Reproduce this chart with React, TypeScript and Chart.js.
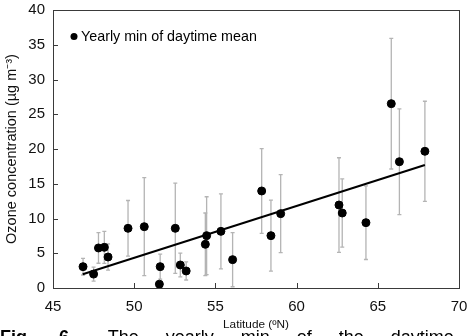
import React, { useEffect, useRef } from "react";
import { Chart, registerables } from "chart.js";

Chart.register(...registerables);

// Station latitude (ºN), yearly minimum of daytime-mean ozone (µg m-3) and its ± spread
const latitude = [46.85, 47.5, 47.8, 48.16, 48.39, 49.62, 50.62, 51.6, 51.55, 52.53, 52.84, 53.2, 54.38, 54.46, 55.34, 56.06, 57.85, 58.42, 59.02, 62.61, 62.81, 64.27, 65.83, 66.33, 67.9];
const ozoneMin = [3.07, 2.0, 5.76, 5.85, 4.46, 8.59, 8.82, 3.07, 0.55, 8.59, 3.31, 2.45, 6.29, 7.53, 8.15, 4.08, 13.96, 7.53, 10.7, 11.94, 10.79, 9.4, 26.52, 18.17, 19.67];
const ozoneErr = [1.2, 1.0, 2.2, 2.3, 1.9, 4.0, 7.05, 1.8, 0, 6.5, 1.7, 1.3, 4.5, 5.6, 5.4, 3.9, 6.1, 5.1, 5.6, 6.8, 4.9, 5.3, 9.4, 7.6, 7.2];

// Linear trend end points
const trendLat = [46.83, 67.9];
const trendOzone = [1.97, 17.7];

const xTicks = [45, 50, 55, 60, 65, 70];
const yTicks = [0, 5, 10, 15, 20, 25, 30, 35, 40];

const legendLabel = "Yearly min of daytime mean";
const FONT = "'Liberation Sans', Arial, sans-serif";

const errorBars = {
  id: "errorBars",
  beforeDatasetsDraw(chart: any) {
    const { ctx, scales } = chart;
    const x = scales.x;
    const y = scales.y;
    ctx.save();
    ctx.strokeStyle = "#b4b4b4";
    ctx.lineWidth = 1.3;
    latitude.forEach((lat, i) => {
      const e = ozoneErr[i];
      if (!e) return;
      const px = x.getPixelForValue(lat);
      const top = y.getPixelForValue(ozoneMin[i] + e);
      const bot = y.getPixelForValue(Math.max(0, ozoneMin[i] - e));
      ctx.beginPath();
      ctx.moveTo(px, top);
      ctx.lineTo(px, bot);
      ctx.moveTo(px - 2, top);
      ctx.lineTo(px + 2, top);
      ctx.moveTo(px - 2, bot);
      ctx.lineTo(px + 2, bot);
      ctx.stroke();
    });
    ctx.restore();
  },
};

const frameAndLegend = {
  id: "frameAndLegend",
  afterDraw(chart: any) {
    const { ctx, chartArea, scales } = chart;
    const { left, right, top, bottom } = chartArea;
    ctx.save();
    ctx.strokeStyle = "#3a3a3a";
    ctx.lineWidth = 1;
    ctx.strokeRect(left + 0.5, top + 0.5, right - left, bottom - top);
    ctx.beginPath();
    yTicks.forEach((v) => {
      const py = Math.round(scales.y.getPixelForValue(v)) + 0.5;
      ctx.moveTo(left, py);
      ctx.lineTo(left + 5, py);
    });
    xTicks.forEach((v) => {
      const px = Math.round(scales.x.getPixelForValue(v)) + 0.5;
      ctx.moveTo(px, bottom);
      ctx.lineTo(px, bottom - 5);
    });
    ctx.stroke();

    // legend inside the plot
    ctx.fillStyle = "#000";
    ctx.beginPath();
    ctx.arc(74, 36.5, 3.5, 0, Math.PI * 2);
    ctx.fill();
    ctx.font = `14.3px ${FONT}`;
    ctx.textBaseline = "middle";
    ctx.fillText(legendLabel, 81, 37);
    ctx.restore();
  },
};

export default function App() {
  const ref = useRef<HTMLCanvasElement>(null);

  useEffect(() => {
    if (!ref.current) return;
    const chart = new Chart(ref.current, {
      type: "scatter",
      data: {
        datasets: [
          {
            label: legendLabel,
            data: latitude.map((v, i) => ({ x: v, y: ozoneMin[i] })),
            backgroundColor: "#000",
            borderColor: "#000",
            pointRadius: 4,
            pointHoverRadius: 4,
          },
          {
            label: "trend",
            type: "line",
            data: trendLat.map((v, i) => ({ x: v, y: trendOzone[i] })),
            borderColor: "#000",
            borderWidth: 2,
            pointRadius: 0,
            fill: false,
          },
        ],
      },
      options: {
        responsive: false,
        animation: false,
        layout: { padding: { left: 0, top: 10, right: 8, bottom: 0 } },
        plugins: { legend: { display: false }, tooltip: { enabled: false } },
        scales: {
          x: {
            type: "linear",
            min: 45,
            max: 70,
            afterBuildTicks: (s: any) => {
              s.ticks = xTicks.map((v) => ({ value: v }));
            },
            afterFit: (s: any) => {
              s.height = 48;
              s.paddingLeft = 0;
              s.paddingRight = 0;
            },
            grid: { display: false, drawTicks: false },
            border: { display: false },
            ticks: { padding: 10, color: "#111", font: { family: FONT, size: 15 } },
            title: {
              display: true,
              text: "Latitude (ºN)",
              color: "#111",
              font: { family: FONT, size: 11.8 },
              padding: { top: 0, bottom: 4 },
            },
          },
          y: {
            min: 0,
            max: 40,
            afterBuildTicks: (s: any) => {
              s.ticks = yTicks.map((v) => ({ value: v }));
            },
            afterFit: (s: any) => {
              s.width = 53;
              s.paddingTop = 0;
              s.paddingBottom = 0;
            },
            grid: { display: false, drawTicks: false },
            border: { display: false },
            ticks: { padding: 8, color: "#111", font: { family: FONT, size: 15 } },
            title: {
              display: true,
              text: "Ozone concentration (µg m⁻³)",
              color: "#111",
              font: { family: FONT, size: 14.5 },
              padding: { top: 3, bottom: 0 },
            },
          },
        },
      },
      plugins: [errorBars, frameAndLegend],
    });
    return () => chart.destroy();
  }, []);

  return (
    <div style={{ position: "fixed", left: 0, top: 0, width: 467, height: 336, overflow: "hidden", background: "#fff" }}>
      <canvas ref={ref} width={467} height={336} style={{ display: "block" }} />
      <div
        style={{
          position: "absolute",
          left: 0,
          top: 327,
          whiteSpace: "nowrap",
          fontFamily: FONT,
          fontSize: 18,
          lineHeight: "20px",
          wordSpacing: 22,
          color: "#000",
        }}
      >
        <b style={{ marginRight: 7 }}>Fig. 6.</b> The yearly min of the daytime
      </div>
    </div>
  );
}
